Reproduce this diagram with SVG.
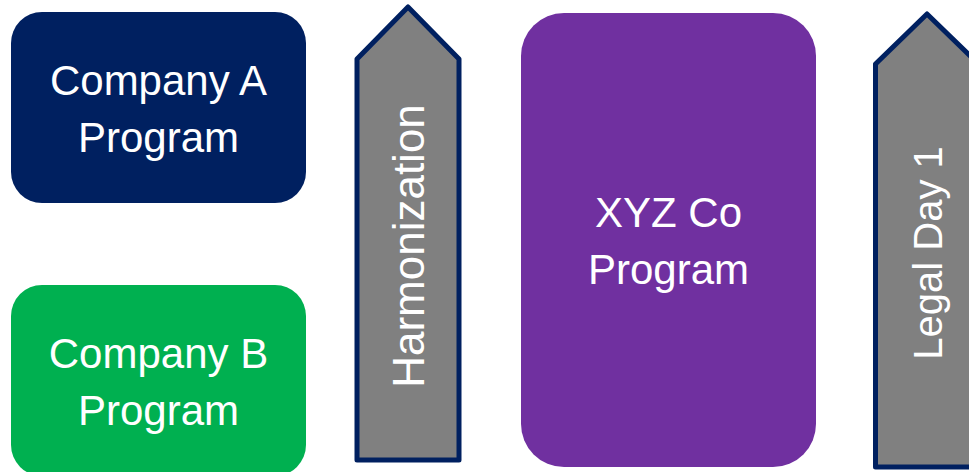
<svg xmlns="http://www.w3.org/2000/svg" width="969" height="472" viewBox="0 0 969 472">
<style>
.lbl{font-family:"Liberation Sans",Arial,sans-serif;font-size:42px;fill:#FFFFFF;text-anchor:middle}
.arrow{fill:#808080;stroke:#002060;stroke-width:5;stroke-linejoin:round}
</style>
<rect width="969" height="472" fill="#FFFFFF"/>
<g id="company-a">
<rect x="11" y="12" width="295" height="191" rx="31" fill="#002060"/>
<text class="lbl" x="158.5" y="95">Company A</text>
<text class="lbl" x="158.5" y="152">Program</text>
</g>
<g id="company-b">
<rect x="11" y="285" width="295" height="191" rx="31" fill="#00B050"/>
<text class="lbl" x="158.5" y="368">Company B</text>
<text class="lbl" x="158.5" y="425">Program</text>
</g>
<g id="harmonization">
<polygon class="arrow" points="357,59 408,7 459,59 459,460 357,460"/>
<text class="lbl" transform="translate(424,246) rotate(-90)" x="0" y="0" style="font-size:44px">Harmonization</text>
</g>
<g id="xyz-co">
<rect x="521" y="13" width="295" height="454" rx="43" fill="#7030A0"/>
<text class="lbl" x="668.5" y="227">XYZ Co</text>
<text class="lbl" x="668.5" y="284">Program</text>
</g>
<g id="legal-day-1">
<polygon class="arrow" points="875.5,64 927,14 978.5,64 978.5,467 875.5,467"/>
<text class="lbl" transform="translate(942,253) rotate(-90)" x="0" y="0" style="font-size:40px">Legal Day 1</text>
</g>
<g id="connectors"></g>
</svg>
